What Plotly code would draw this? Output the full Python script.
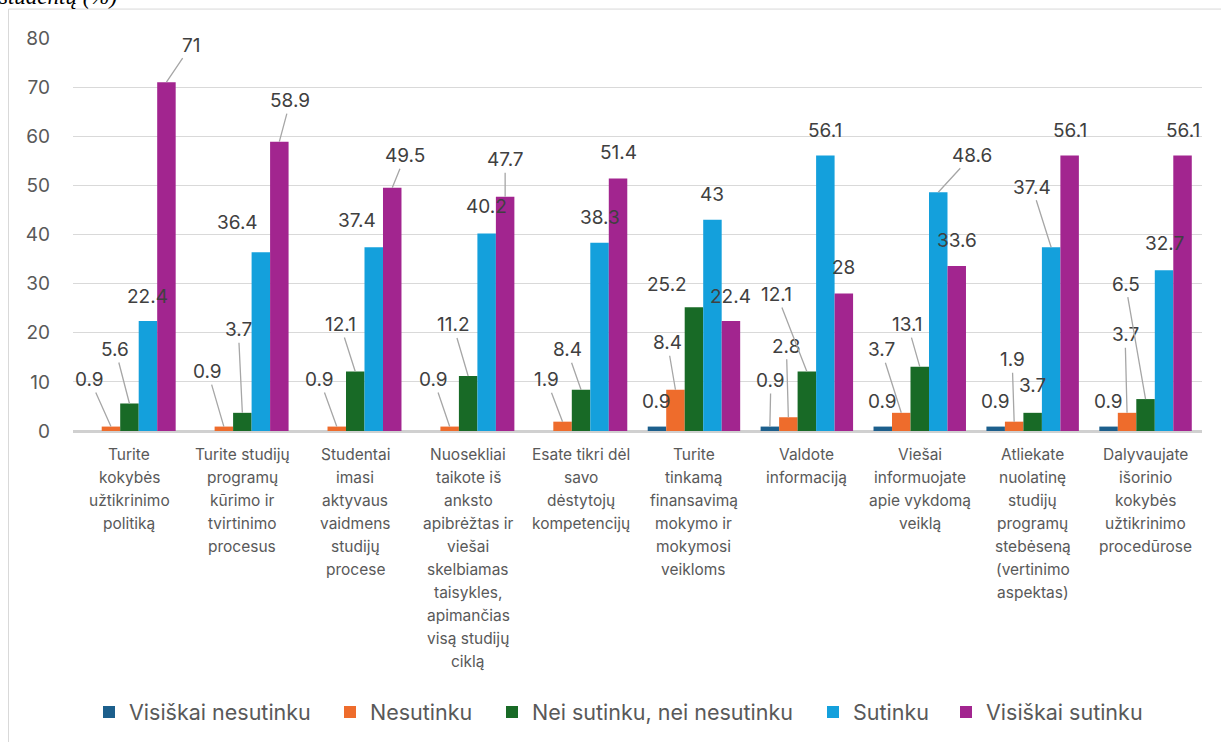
import plotly.graph_objects as go

# ---------------- data ----------------
categories = [
    "Turite kokybės užtikrinimo politiką",
    "Turite studijų programų kūrimo ir tvirtinimo procesus",
    "Studentai imasi aktyvaus vaidmens studijų procese",
    "Nuosekliai taikote iš anksto apibrėžtas ir viešai skelbiamas taisykles, apimančias visą studijų ciklą",
    "Esate tikri dėl savo dėstytojų kompetencijų",
    "Turite tinkamą finansavimą mokymo ir mokymosi veikloms",
    "Valdote informaciją",
    "Viešai informuojate apie vykdomą veiklą",
    "Atliekate nuolatinę studijų programų stebėseną (vertinimo aspektas)",
    "Dalyvaujate išorinio kokybės užtikrinimo procedūrose",
]
category_lines = [
    ["Turite", "kokybės", "užtikrinimo", "politiką"],
    ["Turite studijų", "programų", "kūrimo ir", "tvirtinimo", "procesus"],
    ["Studentai", "imasi", "aktyvaus", "vaidmens", "studijų", "procese"],
    ["Nuosekliai", "taikote iš", "anksto", "apibrėžtas ir", "viešai", "skelbiamas", "taisykles,", "apimančias", "visą studijų", "ciklą"],
    ["Esate tikri dėl", "savo", "dėstytojų", "kompetencijų"],
    ["Turite", "tinkamą", "finansavimą", "mokymo ir", "mokymosi", "veikloms"],
    ["Valdote", "informaciją"],
    ["Viešai", "informuojate", "apie vykdomą", "veiklą"],
    ["Atliekate", "nuolatinę", "studijų", "programų", "stebėseną", "(vertinimo", "aspektas)"],
    ["Dalyvaujate", "išorinio", "kokybės", "užtikrinimo", "procedūrose"],
]
series_names = ["Visiškai nesutinku", "Nesutinku", "Nei sutinku, nei nesutinku", "Sutinku", "Visiškai sutinku"]
visiskai_nesutinku = [0, 0, 0, 0, 0, 0.9, 0.9, 0.9, 0.9, 0.9]
nesutinku = [0.9, 0.9, 0.9, 0.9, 1.9, 8.4, 2.8, 3.7, 1.9, 3.7]
nei_nei = [5.6, 3.7, 12.1, 11.2, 8.4, 25.2, 12.1, 13.1, 3.7, 6.5]
sutinku = [22.4, 36.4, 37.4, 40.2, 38.3, 43, 56.1, 48.6, 37.4, 32.7]
visiskai_sutinku = [71, 58.9, 49.5, 47.7, 51.4, 22.4, 28, 33.6, 56.1, 56.1]
series_values = [visiskai_nesutinku, nesutinku, nei_nei, sutinku, visiskai_sutinku]
y_ticks = [0, 10, 20, 30, 40, 50, 60, 70, 80]

# ---------------- styles / layout ----------------
colors = ["#1C5F8C", "#EE6C2C", "#186A26", "#14A0DC", "#A2258F"]
W, H = 1221, 742
ML, MR, MT, MB = 73, 19, 38, 310
PW, PH = W - ML - MR, H - MT - MB
BARGAP = 0.181
FONT = "Inter"
# legend marker centres (px) for each series
legend_marker_px = [109, 350, 512, 833, 966]

# label callout offsets (pixels from bar top centre), and whether a leader line is drawn
label_offsets = [
    # VN, N, Nei, S, VS
    [None, (-21, -47, 1), (-14, -54, 1), (0, -24, 0), (25, -37, 1)],
    [None, (-16, -55, 1), (-4, -83, 1), (-23, -30, 0), (11, -41, 1)],
    [None, (-17, -47, 1), (-15, -47, 1), (-17, -27, 0), (13, -32, 1)],
    [None, (-16, -47, 1), (-15, -51, 1), (0, -27, 0), (0, -37, 1)],
    [None, (-16, -42, 1), (-14, -40, 1), (0, -25, 0), (0, -26, 0)],
    [(0, -25, 0), (-8, -47, 1), (-27, -23, 0), (0, -25, 0), (0, -24, 0)],
    [(1, -46, 1), (-2, -71, 1), (-30, -77, 1), (0, -25, 0), (0, -26, 0)],
    [(0, -25, 0), (-20, -63, 1), (-12, -42, 1), (34, -37, 1), (0, -25, 0)],
    [(0, -25, 0), (-2, -62, 1), (0, -27, 0), (-19, -60, 1), (0, -25, 0)],
    [(0, -25, 0), (-2, -78, 1), (-20, -115, 1), (0, -27, 0), (0, -25, 0)],
]


def px_to_paper_x(px):
    return (px - ML) / PW


def px_to_paper_y(py):
    return (H - MB - py) / PH


legend_ids = ["legend", "legend2", "legend3", "legend4", "legend5"]

fig = go.Figure()
for name, vals, col, lid in zip(series_names, series_values, colors, legend_ids):
    fig.add_trace(go.Bar(
        name=name, x=categories, y=vals,
        marker=dict(color=col, line=dict(width=0)),
        hoverinfo="y+name", legend=lid,
    ))

cat_w = PW / len(categories)
bar_w = cat_w * (1 - BARGAP) / len(series_names)

annotations = []
for i, cat in enumerate(categories):
    for k, vals in enumerate(series_values):
        v = vals[i]
        off = label_offsets[i][k]
        if v == 0 or off is None:
            continue
        dx, dy, line = off
        annotations.append(dict(
            x=cat, y=v, xref="x", yref="y",
            xshift=(k - (len(series_names) - 1) / 2) * bar_w,
            text=f"{v:g}", showarrow=True,
            ax=dx, ay=dy, arrowhead=0, arrowwidth=1.3, standoff=0,
            arrowcolor="#A6A6A6" if line else "rgba(0,0,0,0)",
            font=dict(family=FONT, size=19, color="#404040"),
        ))
    # category label lines
    for j, ln in enumerate(category_lines[i]):
        annotations.append(dict(
            x=cat, xref="x", yref="paper",
            y=px_to_paper_y(456 + 23 * j), yanchor="middle", xanchor="center",
            text=ln, showarrow=False,
            font=dict(family=FONT, size=15.5, color="#595959"),
        ))

# clipped title at the top-left (cut by the page edge, as in the source)
annotations.append(dict(
    x=px_to_paper_x(119), y=px_to_paper_y(11), xref="paper", yref="paper",
    xanchor="right", yanchor="bottom", text="<i>studentų (%)</i>", showarrow=False,
    font=dict(family="Liberation Serif", size=23, color="#000000"),
))

legend_layout = {}
for lid, mx in zip(legend_ids, legend_marker_px):
    legend_layout[lid] = dict(
        orientation="h", x=px_to_paper_x(mx - 20), xanchor="left",
        y=px_to_paper_y(712), yanchor="middle",
        font=dict(family=FONT, size=21.5, color="#595959"),
        itemwidth=30, bgcolor="rgba(0,0,0,0)",
    )

fig.update_layout(
    width=W, height=H,
    margin=dict(l=ML, r=MR, t=MT, b=MB, pad=0),
    paper_bgcolor="white", plot_bgcolor="white",
    barmode="group", bargap=BARGAP, bargroupgap=0,
    font=dict(family=FONT, color="#595959"),
    showlegend=True,
    xaxis=dict(
        showticklabels=False, showgrid=False, zeroline=False,
        showline=False, ticks="",
    ),
    yaxis=dict(
        range=[0, 80], tickvals=y_ticks, ticks="",
        showgrid=True, gridcolor="#D9D9D9", gridwidth=1.3,
        zeroline=True, zerolinecolor="#D0D0D0", zerolinewidth=2.5,
        showline=False, ticklabelstandoff=22,
        tickfont=dict(family=FONT, size=19, color="#595959"),
    ),
    annotations=annotations,
    shapes=[dict(
        type="rect", xref="paper", yref="paper", layer="below",
        x0=px_to_paper_x(8.5), x1=px_to_paper_x(1240),
        y0=px_to_paper_y(760), y1=px_to_paper_y(9),
        line=dict(color="#D9D9D9", width=1), fillcolor="rgba(0,0,0,0)",
    )],
    **legend_layout,
)

fig.write_html("out.html")
